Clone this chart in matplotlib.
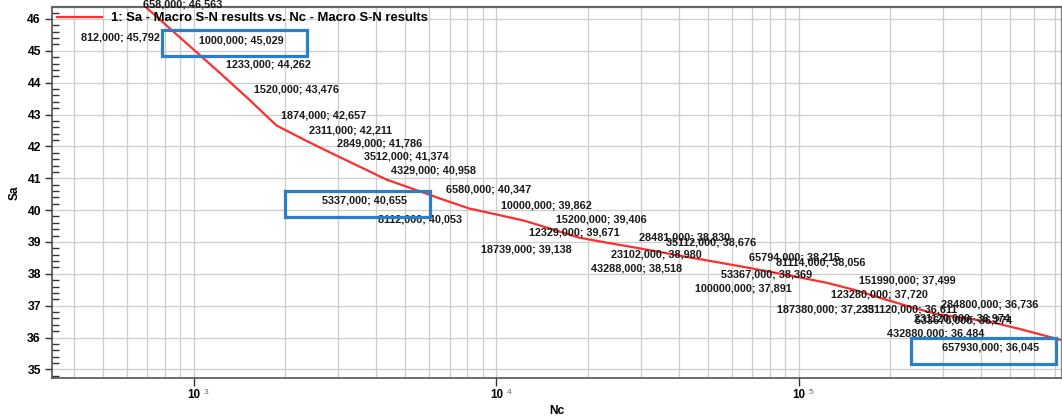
import matplotlib
matplotlib.use("Agg")
import matplotlib.pyplot as plt
from matplotlib.patches import Rectangle
from matplotlib.transforms import IdentityTransform
from matplotlib.ticker import FixedLocator, FuncFormatter, MultipleLocator, NullFormatter

plt.rcParams['font.family'] = ['Liberation Sans', 'DejaVu Sans']

# S-N curve points: number of cycles vs stress amplitude
nc = [658, 812, 1000, 1233, 1520, 1874, 2311, 2849, 3512, 4329, 5337, 6580,
      8112, 10000, 12329, 15200, 18739, 23102, 28481, 35112, 43288, 53367,
      65794, 81114, 100000, 123280, 151990, 187380, 231120, 284800, 351120,
      432880, 533670, 657930, 811230]
sa = [46.563, 45.792, 45.029, 44.262, 43.476, 42.657, 42.211, 41.786, 41.374,
      40.958, 40.655, 40.347, 40.053, 39.862, 39.671, 39.406, 39.138, 38.980,
      38.830, 38.676, 38.518, 38.369, 38.215, 38.056, 37.891, 37.720, 37.499,
      37.233, 36.974, 36.736, 36.611, 36.484, 36.274, 36.045, 35.814]

series_name = "1: Sa - Macro S-N results vs. Nc - Macro S-N results"
decades = [3, 4, 5]
highlighted = [1000, 5337, 657930]

# where each point label sits relative to its point (None: no label)
placement = ['top', 'll', 'ur', 'ur', 'ur', 'ur', 'ur', 'ur', 'ur', 'ur', 'll',
             'ur', 'll', 'ur', 'lr', 'ur', 'll', 'lr', 'ur', 'ur', 'll', 'lr',
             'ur', 'ur', 'll', 'lr', 'ur', 'll', 'lr', 'ur', 'ul', 'll', 'ul',
             'll', None]
offsets = {
    'ur': ((5, 9.5), 'left'),
    'lr': ((5, -12), 'left'),
    'll': ((-7, -11.5), 'right'),
    'ul': ((-7, 8.5), 'right'),
    'top': ((4, -3), 'left'),
}

fig = plt.figure(figsize=(10.62, 4.18), dpi=100)
ax = fig.add_axes([52 / 1062, 40 / 418, 1009 / 1062, 371 / 418])

ax.plot(nc, sa, color='#ff2e2e', lw=1.6, label=series_name, zorder=3)
ax.set_xscale('log')
ax.set_xlim(339.4, 734700)
ax.set_ylim(34.73, 46.376)

# grid
ax.yaxis.set_major_locator(MultipleLocator(1))
ax.yaxis.set_minor_locator(MultipleLocator(0.2))
ax.xaxis.set_major_locator(FixedLocator([10 ** d for d in decades]))
ax.xaxis.set_minor_locator(FixedLocator([m * 10 ** d for d in range(2, 6)
                                         for m in range(2, 10)]))
ax.xaxis.set_minor_formatter(NullFormatter())
ax.xaxis.set_major_formatter(FuncFormatter(lambda v, p: "10"))
ax.grid(True, which='major', axis='both', color='#cdcdcd', lw=0.9)
ax.grid(True, which='minor', axis='x', color='#cdcdcd', lw=0.9)
ax.set_axisbelow(True)

ax.tick_params(axis='y', which='major', direction='out', length=5, width=1,
               color='#333333', labelsize=8.7, pad=3)
ax.tick_params(axis='y', which='minor', direction='in', length=5, width=1,
               color='#333333')
ax.tick_params(axis='x', which='major', direction='out', length=6, width=1,
               color='#333333', labelsize=8.4, pad=2)
ax.tick_params(axis='x', which='minor', length=0)
for lab in ax.get_xticklabels() + ax.get_yticklabels():
    lab.set_fontweight('bold')

for d in decades:
    ax.annotate(str(d), xy=(10 ** d, 0), xycoords=('data', 'axes fraction'),
                xytext=(12.5, -14), textcoords='offset pixels', fontsize=6,
                color='#666666', ha='center', va='center', annotation_clip=False)

for side in ('left', 'bottom'):
    ax.spines[side].set_color('#444444')
    ax.spines[side].set_linewidth(1.1)
ax.spines['top'].set_color('#666666')
ax.spines['top'].set_linewidth(1.6)
ax.spines['right'].set_color('#888888')
ax.spines['right'].set_linewidth(1.0)

ax.set_xlabel("Nc", fontsize=8.6, fontweight='bold', labelpad=3)
ax.set_ylabel("Sa", fontsize=8.5, fontweight='bold', labelpad=5)

ax.legend(loc='upper left', frameon=False, handlelength=3.4,
          handletextpad=0.7, borderpad=0.1, borderaxespad=0.3,
          prop={'weight': 'bold', 'size': 9.4})

labels = []
for x, y, code in zip(nc, sa, placement):
    if code is None:
        continue
    (dx, dy), ha = offsets[code]
    txt = f"{x:.3f}; {y:.3f}".replace('.', ',')
    a = ax.annotate(txt, xy=(x, y), xytext=(dx, dy), textcoords='offset pixels',
                    ha=ha, va='center', fontsize=7.8, fontweight='bold',
                    color='#1a1a1a', annotation_clip=False, zorder=4)
    labels.append((x, a))

# highlight boxes around selected labels
fig.canvas.draw()
renderer = fig.canvas.get_renderer()
for x, a in labels:
    if x in highlighted:
        bb = a.get_window_extent(renderer)
        cx = (bb.x0 + bb.x1) / 2 - 7
        cy = (bb.y0 + bb.y1) / 2 - 3
        w, h = 145, 26
        rect = Rectangle((cx - w / 2, cy - h / 2), w, h, fill=False,
                         edgecolor='#2b7fc6', lw=2.3, transform=IdentityTransform(),
                         zorder=5)
        fig.add_artist(rect)

fig.savefig("out.png", dpi=100)
